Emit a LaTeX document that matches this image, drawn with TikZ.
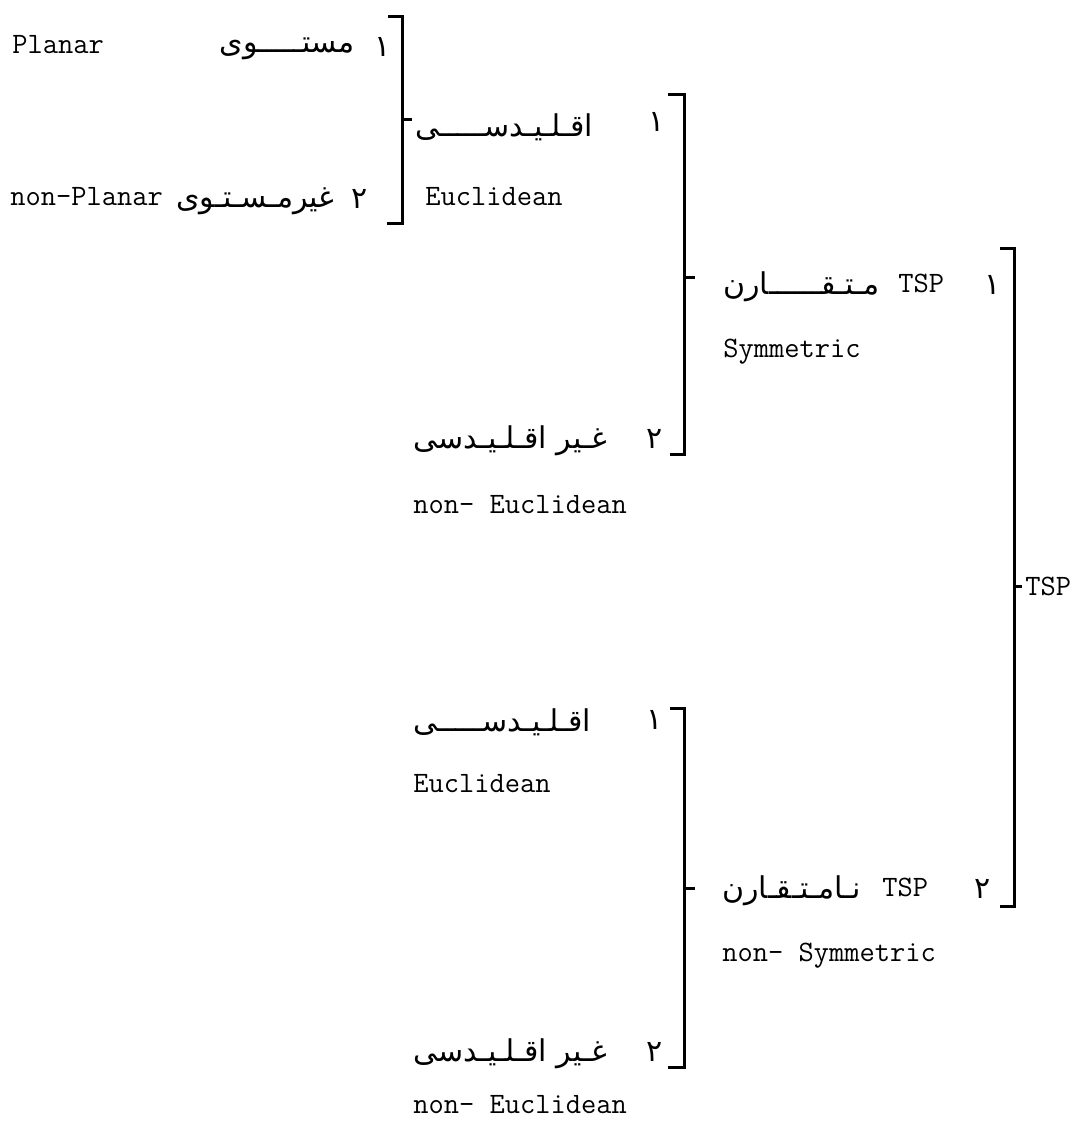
\documentclass[tikz,border=0pt]{standalone}
\usepackage{fontspec}
\newfontfamily\arabicfont[Script=Arabic]{DejaVu Sans}
\TeXXeTstate=1
\tikzset{
  lat/.style = {font = \ttfamily\fontsize{14.8}{17}\selectfont, inner sep = 0pt},
  fa/.style = {font = \arabicfont\fontsize{15}{17}\selectfont, inner sep = 0pt},
  brk/.style = {line width = 1.5pt}
}
\newcommand{\fatext}[1]{\beginR #1\endR}
\begin{document}
\begin{tikzpicture}[x = 0.5pt, y = -0.5pt]
\useasboundingbox (0, 0) rectangle (1079, 1132);
% planar / non-planar
\node[lat, anchor = west] (planar) at (12, 45) {Planar};
\node[fa, anchor = east] (mustawi) at (355, 49) {\fatext{مستـــــوی}};
\node[fa] (n1a) at (383, 47) {۱};
\node[lat, anchor = west] (nonplanar) at (10, 197) {non-Planar};
\node[fa, anchor = east] (ghmustawi) at (335, 201) {\fatext{غیرمـسـتـوی}};
\node[fa] (n2a) at (360, 199) {۲};
\draw[brk] (388, 16) -- (402, 16) -- (402, 223) -- (387, 223);
\draw[brk] (402, 119) -- (412, 119);
% euclidean / non-euclidean (upper)
\node[fa, anchor = west] (uqlidi1) at (415, 127) {\fatext{اقـلـیـدســـــی}};
\node[fa] (n1b) at (657, 122) {۱};
\node[lat, anchor = west] (eucl1) at (425, 197) {Euclidean};
\node[fa, anchor = west] (ghuqlidi1) at (413, 441) {\fatext{غـیر اقـلـیـدسی}};
\node[fa] (n2b) at (655, 439) {۲};
\node[lat, anchor = west] (noneucl1) at (413, 505) {non- Euclidean};
\draw[brk] (668, 94) -- (684, 94) -- (684, 454) -- (670, 454);
\draw[brk] (684, 277) -- (695, 277);
% symmetric / non-symmetric
\node[fa, anchor = west] (mutaqarin) at (723, 287) {\fatext{مـتـقــــــارن}};
\node[lat, anchor = west] (tsp1) at (898, 283) {TSP};
\node[fa] (n1c) at (993, 285) {۱};
\node[lat, anchor = west] (sym) at (723, 352) {Symmetric};
\node[fa, anchor = west] (namutaqarin) at (722, 891) {\fatext{نـامـتـقـارن}};
\node[lat, anchor = west] (tsp2) at (882, 887) {TSP};
\node[fa] (n2c) at (983, 889) {۲};
\node[lat, anchor = west] (nonsym) at (722, 956) {non- Symmetric};
\draw[brk] (1000, 248) -- (1014, 248) -- (1014, 906) -- (1000, 906);
\draw[brk] (1014, 586) -- (1022, 586);
\node[lat, anchor = west] (tsp) at (1025, 586) {TSP};
% euclidean / non-euclidean (lower)
\node[fa, anchor = west] (uqlidi2) at (413, 722) {\fatext{اقـلـیـدســـــی}};
\node[fa] (n1d) at (655, 720) {۱};
\node[lat, anchor = west] (eucl2) at (413, 784) {Euclidean};
\node[fa, anchor = west] (ghuqlidi2) at (413, 1054) {\fatext{غـیر اقـلـیـدسی}};
\node[fa] (n2d) at (655, 1052) {۲};
\node[lat, anchor = west] (noneucl2) at (413, 1105) {non- Euclidean};
\draw[brk] (670, 708) -- (684, 708) -- (684, 1067) -- (668, 1067);
\draw[brk] (684, 888) -- (695, 888);
\end{tikzpicture}
\end{document}
